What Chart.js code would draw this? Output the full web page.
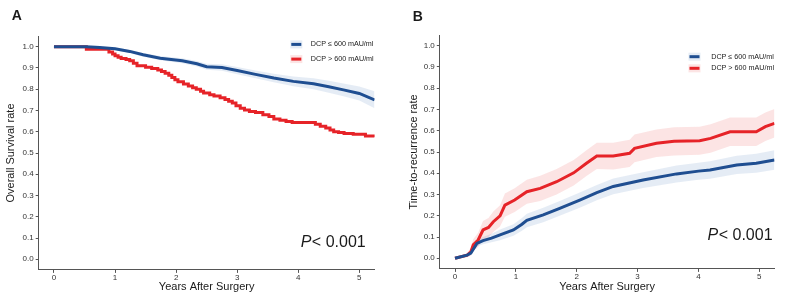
<!DOCTYPE html>
<html lang="en">
<head>
<meta charset="UTF-8">
<title>DCP survival and recurrence</title>
<script src="https://cdn.jsdelivr.net/npm/chart.js"></script>
<style>
  body { margin: 0; background: #ffffff; }
  .wrap { position: relative; width: 786px; height: 304px; }
  #chartA { position: absolute; left: 0; top: 0; }
  #chartB { position: absolute; left: 398px; top: 0; }
</style>
</head>
<body>
<div class="wrap">
  <canvas id="chartA" width="392" height="304"></canvas>
  <canvas id="chartB" width="388" height="304"></canvas>
</div>
<script>
const seriesLabels = ["DCP \u2264 600 mAU/ml", "DCP > 600 mAU/ml"];
const xTicks = [0, 1, 2, 3, 4, 5];
const yTicks = [0, 0.1, 0.2, 0.3, 0.4, 0.5, 0.6, 0.7, 0.8, 0.9, 1.0];
const pText = ["P", "< 0.001"];

// Panel A - overall survival, DCP <= 600
const osLowTime  = [0, 0.53, 0.75, 1.0, 1.24, 1.46, 1.74, 2.1, 2.34, 2.5, 2.75, 3.0, 3.3, 3.6, 3.92, 4.25, 4.5, 4.74, 5.0, 5.25];
const osLow      = [1.0, 1.0, 0.996, 0.99, 0.978, 0.962, 0.946, 0.934, 0.92, 0.906, 0.902, 0.888, 0.87, 0.853, 0.837, 0.826, 0.812, 0.797, 0.78, 0.75];
const osLowUpper = [1.0, 1.0, 0.999, 0.996, 0.986, 0.971, 0.956, 0.946, 0.933, 0.92, 0.917, 0.905, 0.888, 0.873, 0.86, 0.852, 0.84, 0.827, 0.813, 0.79];
const osLowLower = [1.0, 1.0, 0.993, 0.984, 0.970, 0.953, 0.936, 0.922, 0.907, 0.892, 0.887, 0.871, 0.852, 0.833, 0.814, 0.80, 0.784, 0.767, 0.747, 0.71];

// Panel A - overall survival, DCP > 600 (step times and values after each step)
const osHighTime = [0, 0.53, 0.9, 0.96, 1.0, 1.05, 1.1, 1.18, 1.24, 1.3, 1.36, 1.5, 1.6, 1.7, 1.76, 1.82, 1.88, 1.93, 1.98, 2.03, 2.12, 2.2, 2.27, 2.33, 2.4, 2.45, 2.55, 2.62, 2.72, 2.8, 2.86, 2.92, 2.98, 3.05, 3.12, 3.2, 3.3, 3.42, 3.52, 3.6, 3.7, 3.8, 3.9, 4.28, 4.36, 4.45, 4.52, 4.58, 4.66, 4.75, 4.9, 5.1, 5.25];
const osHigh     = [1.0, 0.988, 0.975, 0.966, 0.958, 0.95, 0.945, 0.94, 0.934, 0.922, 0.91, 0.903, 0.897, 0.89, 0.884, 0.875, 0.866, 0.855, 0.845, 0.835, 0.825, 0.815, 0.807, 0.80, 0.79, 0.782, 0.774, 0.768, 0.76, 0.752, 0.744, 0.735, 0.722, 0.71, 0.702, 0.695, 0.69, 0.68, 0.672, 0.66, 0.654, 0.648, 0.643, 0.635, 0.626, 0.618, 0.608, 0.60, 0.596, 0.592, 0.588, 0.58, 0.575];

// Panel B - time to recurrence, DCP <= 600
const recLowTime  = [0, 0.2, 0.26, 0.36, 0.46, 0.6, 0.74, 0.96, 1.1, 1.18, 1.45, 1.72, 2.05, 2.33, 2.6, 3.09, 3.64, 4.0, 4.19, 4.63, 4.95, 5.25];
const recLow      = [0, 0.015, 0.024, 0.07, 0.083, 0.095, 0.11, 0.133, 0.16, 0.178, 0.204, 0.235, 0.274, 0.309, 0.338, 0.368, 0.397, 0.41, 0.415, 0.439, 0.447, 0.462];
const recLowUpper = [0, 0.02, 0.032, 0.085, 0.1, 0.115, 0.135, 0.16, 0.19, 0.21, 0.238, 0.27, 0.31, 0.345, 0.375, 0.405, 0.437, 0.45, 0.456, 0.482, 0.492, 0.508];
const recLowLower = [0, 0.01, 0.016, 0.055, 0.066, 0.075, 0.085, 0.106, 0.13, 0.146, 0.17, 0.2, 0.238, 0.273, 0.301, 0.331, 0.357, 0.37, 0.374, 0.396, 0.402, 0.416];

// Panel B - time to recurrence, DCP > 600
const recHighTime  = [0, 0.2, 0.26, 0.3, 0.38, 0.46, 0.55, 0.63, 0.74, 0.82, 0.98, 1.18, 1.4, 1.67, 1.95, 2.16, 2.33, 2.6, 2.87, 2.95, 3.31, 3.6, 4.02, 4.2, 4.52, 4.95, 5.1, 5.25];
const recHigh      = [0, 0.015, 0.03, 0.063, 0.086, 0.133, 0.145, 0.172, 0.2, 0.25, 0.274, 0.313, 0.329, 0.36, 0.402, 0.447, 0.481, 0.481, 0.494, 0.517, 0.541, 0.55, 0.553, 0.564, 0.595, 0.595, 0.619, 0.635];
const recHighUpper = [0, 0.025, 0.05, 0.09, 0.12, 0.175, 0.19, 0.22, 0.25, 0.305, 0.33, 0.37, 0.388, 0.42, 0.462, 0.508, 0.543, 0.544, 0.558, 0.582, 0.606, 0.616, 0.619, 0.631, 0.662, 0.662, 0.686, 0.702];
const recHighLower = [0, 0.005, 0.012, 0.035, 0.052, 0.09, 0.1, 0.124, 0.15, 0.195, 0.218, 0.256, 0.27, 0.30, 0.342, 0.387, 0.42, 0.418, 0.43, 0.452, 0.476, 0.484, 0.487, 0.497, 0.528, 0.528, 0.552, 0.568];

const FONT = '"Liberation Sans", Arial, sans-serif';
const lineColors = ["#1f4e91", "#e62328"];
const bandColors = ["rgba(40, 95, 175, 0.12)", "rgba(235, 45, 45, 0.13)"];

function toPoints(times, values) {
    return times.map((t, i) => ({ x: t, y: values[i] }));
}

function band(times, upper, lower, color) {
    return [
        { data: toPoints(times, upper), borderWidth: 0, pointRadius: 0, backgroundColor: color, fill: "+1", order: 3 },
        { data: toPoints(times, lower), borderWidth: 0, pointRadius: 0, backgroundColor: color, fill: false, order: 3 }
    ];
}

function line(times, values, color, stepped) {
    return { data: toPoints(times, values), borderColor: color, borderWidth: 3, pointRadius: 0, fill: false, stepped: stepped, order: 1 };
}

// legend, panel tag and p value drawn on top of the chart
const overlay = {
    id: "overlay",
    afterDraw(chart, args, o) {
        const { ctx, chartArea, scales } = chart;
        ctx.save();
        ctx.fillStyle = "#1a1a1a";
        ctx.textBaseline = "alphabetic";
        ctx.font = "bold 14px " + FONT;
        ctx.fillText(o.tag, o.tagX, o.tagY);

        ctx.textBaseline = "middle";
        seriesLabels.forEach((label, i) => {
            const x = chartArea.right - o.legendRight;
            const y = chartArea.top + o.legendTop + i * o.legendGap;
            ctx.fillStyle = bandColors[i];
            ctx.fillRect(x - 1, y - 4, 12, 8);
            ctx.fillStyle = lineColors[i];
            ctx.fillRect(x, y - 1.5, 10, 3);
            ctx.fillStyle = "#1a1a1a";
            ctx.font = "7.2px " + FONT;
            ctx.fillText(label, x + o.legendText, y);
        });

        ctx.textBaseline = "alphabetic";
        const px = scales.x.getPixelForValue(o.pX);
        const py = scales.y.getPixelForValue(o.pY);
        ctx.font = "italic 16px " + FONT;
        ctx.fillText(pText[0], px, py);
        const w = ctx.measureText(pText[0]).width;
        ctx.font = "16px " + FONT;
        ctx.fillText(pText[1], px + w + 0.5, py);
        ctx.restore();
    }
};

function makeOptions(yTitle, yWidth, yTitlePad, xHeight, padding, overlayOpts) {
    return {
        responsive: false,
        animation: false,
        layout: { padding: padding },
        plugins: { legend: { display: false }, tooltip: { enabled: false }, overlay: overlayOpts },
        scales: {
            x: {
                type: "linear", min: -0.25, max: 5.25,
                afterBuildTicks: s => { s.ticks = xTicks.map(v => ({ value: v })); },
                afterFit: s => { s.height = xHeight; },
                ticks: { font: { family: FONT, size: 8 }, color: "#333333", padding: 0, callback: v => String(v) },
                grid: { drawOnChartArea: false, drawTicks: true, tickLength: 3, color: "#555" },
                border: { display: true, color: "#555", width: 1 },
                title: { display: true, text: "Years After Surgery", color: "#1a1a1a", font: { family: FONT, size: 11 }, padding: { top: 0, bottom: 10.5 } }
            },
            y: {
                type: "linear", min: -0.05, max: 1.05,
                afterBuildTicks: s => { s.ticks = yTicks.map(v => ({ value: v })); },
                afterFit: s => { s.width = yWidth; },
                ticks: { font: { family: FONT, size: 8 }, color: "#333333", padding: 2, callback: v => v.toFixed(1) },
                grid: { drawOnChartArea: false, drawTicks: true, tickLength: 3, color: "#555" },
                border: { display: true, color: "#555", width: 1 },
                title: { display: true, text: yTitle, color: "#1a1a1a", font: { family: FONT, size: 11 }, padding: { top: yTitlePad, bottom: 0 } }
            }
        }
    };
}

new Chart(document.getElementById("chartA"), {
    type: "line",
    data: {
        datasets: [
            ...band(osLowTime, osLowUpper, osLowLower, bandColors[0]),
            line(osLowTime, osLow, lineColors[0], false),
            line(osHighTime, osHigh, lineColors[1], true)
        ]
    },
    options: makeOptions("Overall Survival rate", 38.7, 4.5, 34.1,
        { left: 0, right: 17.4, top: 36.1, bottom: 0 },
        { tag: "A", tagX: 11.7, tagY: 20, legendRight: 83.3, legendTop: 8.3, legendGap: 14.7, legendText: 19.5, pX: 4.04, pY: 0.059 }),
    plugins: [overlay]
});

new Chart(document.getElementById("chartB"), {
    type: "line",
    data: {
        datasets: [
            ...band(recLowTime, recLowUpper, recLowLower, bandColors[0]),
            ...band(recHighTime, recHighUpper, recHighLower, bandColors[1]),
            line(recLowTime, recLow, lineColors[0], false),
            line(recHighTime, recHigh, lineColors[1], false)
        ]
    },
    options: makeOptions("Time-to-recurrence rate", 41.8, 9.4, 35.1,
        { left: 0, right: 11.5, top: 35.1, bottom: 0 },
        { tag: "B", tagX: 14.7, tagY: 20.7, legendRight: 85, legendTop: 21.6, legendGap: 11.6, legendText: 21.7, pX: 4.15, pY: 0.084 }),
    plugins: [overlay]
});
</script>
</body>
</html>
